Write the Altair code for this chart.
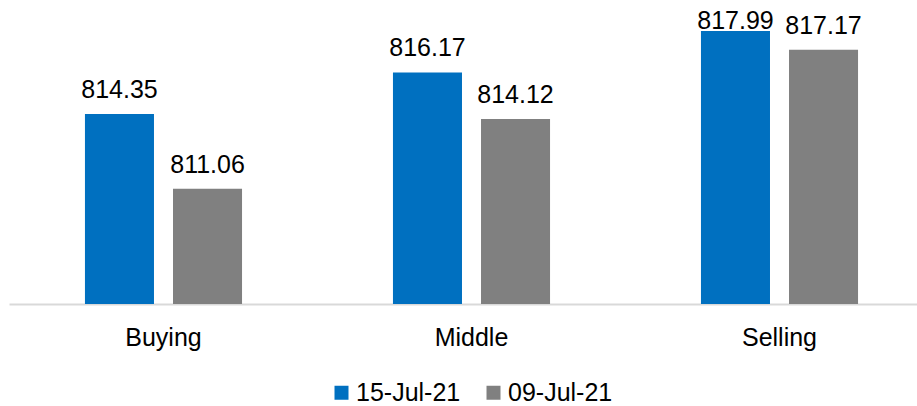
import altair as alt
import pandas as pd

categories = ["Buying", "Middle", "Selling"]
series_names = ["15-Jul-21", "09-Jul-21"]
values_15jul = [814.35, 816.17, 817.99]
values_09jul = [811.06, 814.12, 817.17]
colors = ["#0070C0", "#808080"]
axis_min = 806
axis_max = 819

rows = []
for i, c in enumerate(categories):
    rows.append({"category": c, "series": series_names[0], "value": values_15jul[i]})
    rows.append({"category": c, "series": series_names[1], "value": values_09jul[i]})
df = pd.DataFrame(rows)

FONT = "Liberation Sans"

x = alt.X(
    "category:N",
    sort=categories,
    scale=alt.Scale(paddingInner=0.49, paddingOuter=0.219, align=0.563),
    axis=alt.Axis(
        title=None, labelAngle=0, ticks=False, domainColor="#D9D9D9",
        domainWidth=2, labelFontSize=25, labelColor="#000000",
        labelPadding=21, labelFont=FONT,
    ),
)
xo = alt.XOffset("series:N", sort=series_names,
                 scale=alt.Scale(paddingInner=0.216, paddingOuter=0))

yscale = alt.Scale(domain=[axis_min, axis_max], zero=False, nice=False)

base = alt.Chart(df).encode(x=x, xOffset=xo)

bars = base.mark_bar().encode(
    y=alt.Y("value:Q", scale=yscale, axis=None),
    y2=alt.datum(axis_min),
    color=alt.Color(
        "series:N",
        sort=series_names,
        scale=alt.Scale(domain=series_names, range=colors),
        legend=alt.Legend(
            orient="none", legendX=320, legendY=372, direction="horizontal",
            title=None, symbolType="square", symbolSize=196, symbolStrokeWidth=0,
            labelFontSize=25, labelFont=FONT, labelColor="#000000",
            labelOffset=2, columnPadding=20,
        ),
    ),
)

labels = base.transform_calculate(
    label_pos="min(datum.value + 0.70, 818.06)"
).mark_text(
    baseline="alphabetic", align="center", fontSize=25, font=FONT, color="#000000"
).encode(
    y=alt.Y("label_pos:Q", scale=yscale, axis=None),
    text=alt.Text("value:Q", format=".2f"),
)

chart = (
    alt.layer(bars, labels)
    .properties(
        width=908, height=296,
        autosize=alt.AutoSizeParams(type="none"),
        padding={"left": 9, "top": 8, "right": 0, "bottom": 102},
        background="white",
    )
    .configure_view(stroke=None)
)

chart.save("out.html", embed_options={"renderer": "svg", "actions": False})
